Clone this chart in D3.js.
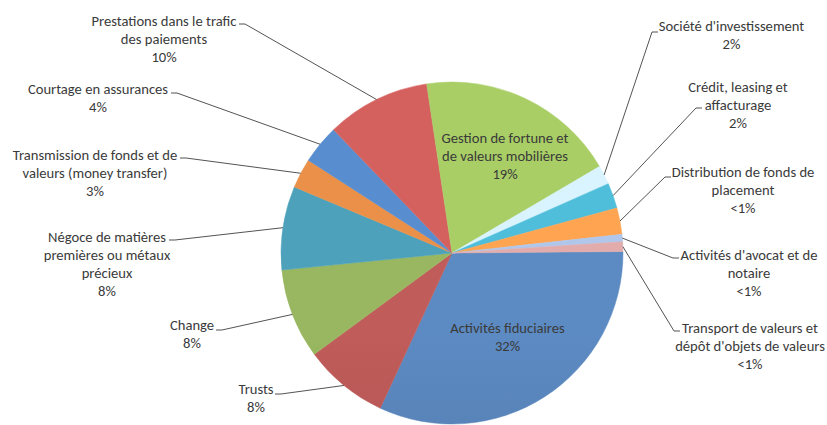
<!DOCTYPE html>
<html><head><meta charset="utf-8">
<script src="https://cdn.jsdelivr.net/npm/d3@7"></script>
<style>
html,body{margin:0;padding:0;background:#fff;}
text{font-family:Carlito,Calibri,Lato,"Open Sans",sans-serif;font-size:14.6px;fill:#3a3a3a;}
</style></head>
<body><svg id="chart" width="827" height="425"></svg>
<script>
// ---- data (clockwise from 3 o'clock) ----
const categories = [
  ["Activités fiduciaires"],
  ["Trusts"],
  ["Change"],
  ["Négoce de matières", "premières ou métaux", "précieux"],
  ["Transmission de fonds et de", "valeurs (money transfer)"],
  ["Courtage en assurances"],
  ["Prestations dans le trafic", "des paiements"],
  ["Gestion de fortune et", "de valeurs mobilières"],
  ["Société d'investissement"],
  ["Crédit, leasing et", "affacturage"],
  ["Distribution de fonds de", "placement"],
  ["Activités d'avocat et de", "notaire"],
  ["Transport de valeurs et", "dépôt d'objets de valeurs"]
];
const values = [32.0, 8.0, 8.5, 7.9, 2.8, 3.7, 9.8, 18.9, 1.8, 2.4, 2.5, 0.7, 0.9];
const pctLabels = ["32%", "8%", "8%", "8%", "3%", "4%", "10%", "19%", "2%", "2%", "<1%", "<1%", "<1%"];

// ---- styles / layout ----
const colors = ["#5884ba", "#b85856", "#92af5c", "#4a9ab3", "#e08a45", "#5487c6", "#cc5d5b",
                "#a2c562", "#d0eaf8", "#4bb6d1", "#f79d4e", "#a9bee0", "#d9a5a5"];
const labelLayout = [
  {tx: 507.5, ty: 328, inside: true},
  {tx: 256, ty: 389, lx: 275, ly: 394, side: "L"},
  {tx: 192, ty: 325, lx: 216, ly: 330, side: "L"},
  {tx: 107, ty: 237, lx: 169, ly: 240, side: "L"},
  {tx: 95, ty: 155, lx: 180, ly: 158, side: "L"},
  {tx: 98, ty: 89, lx: 171, ly: 93, side: "L"},
  {tx: 164, ty: 21, lx: 239, ly: 24, side: "L"},
  {tx: 505, ty: 138, inside: true},
  {tx: 731.5, ty: 26, lx: 658, ly: 32, side: "R"},
  {tx: 738, ty: 87, lx: 702, ly: 108, side: "R"},
  {tx: 743, ty: 172, lx: 671, ly: 177, side: "R"},
  {tx: 749, ty: 255, lx: 679, ly: 258, side: "R"},
  {tx: 750, ty: 328, lx: 680, ly: 331, side: "R"}
];
const cx = 452, cy = 253, R = 171, lineH = 18;

const svg = d3.select("#chart");
const defs = svg.append("defs");
colors.forEach((c, i) => {
  const g = defs.append("linearGradient").attr("id", "g" + i)
    .attr("gradientUnits", "userSpaceOnUse")
    .attr("x1", 0).attr("x2", 0).attr("y1", cy - R).attr("y2", cy + R);
  g.append("stop").attr("offset", "0%").attr("stop-color", d3.color(c).brighter(0.12));
  g.append("stop").attr("offset", "100%").attr("stop-color", d3.color(c).darker(0.38));
});

const startA = (90 - 0.5) * Math.PI / 180;
const pie = d3.pie().sort(null).value(d => d).startAngle(startA).endAngle(startA + 2 * Math.PI);
const arcs = pie(values);
const arc = d3.arc().innerRadius(0).outerRadius(R);

const gp = svg.append("g").attr("transform", `translate(${cx},${cy})`);
gp.selectAll("path").data(arcs).join("path")
  .attr("d", arc)
  .attr("fill", (d, i) => `url(#g${i})`)
  .attr("stroke", (d, i) => `url(#g${i})`)
  .attr("stroke-width", 0.5);

// leader lines
arcs.forEach((a, i) => {
  const L = labelLayout[i];
  if (L.inside) return;
  const m = (a.startAngle + a.endAngle) / 2;
  const ex = cx + R * Math.sin(m), ey = cy - R * Math.cos(m);
  const hx = L.side === "L" ? L.lx + 6 : L.lx - 6;
  svg.append("polyline")
    .attr("points", `${ex},${ey} ${hx},${L.ly} ${L.lx},${L.ly}`)
    .attr("fill", "none").attr("stroke", "#404040").attr("stroke-width", 0.9);
});

// labels
categories.forEach((lines, i) => {
  const L = labelLayout[i];
  const all = lines.concat([pctLabels[i]]);
  const t = svg.append("text").attr("text-anchor", "middle");
  all.forEach((s, k) => {
    t.append("tspan").attr("x", L.tx).attr("y", L.ty + k * lineH + 5).text(s);
  });
});
</script></body></html>
